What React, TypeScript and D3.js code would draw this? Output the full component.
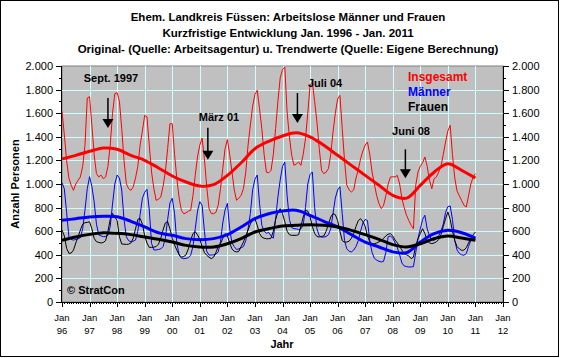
import React from "react";
import * as d3 from "d3";

// monthly values Jan 1996 .. Jan 2011
const insgesamt = [
  1616, 1420, 1200, 1050, 989, 946, 1000, 1031, 1060, 1150, 1328, 1729,
  1740, 1500, 1250, 1088, 1060, 1075, 1045, 1060, 1150, 1328, 1600, 1766,
  1774, 1700, 1469, 1200, 1003, 960, 946, 975, 1050, 1150, 1328, 1450,
  1582, 1568, 1328, 1100, 960, 862, 870, 890, 980, 1102, 1300, 1511,
  1511, 1250, 1045, 880, 776, 748, 755, 770, 776, 900, 1073, 1230,
  1330, 1390, 1215, 980, 791, 750, 748, 760, 820, 960, 1130, 1300,
  1376, 1250, 1102, 950, 862, 880, 904, 960, 1100, 1328, 1500, 1660,
  1760, 1794, 1640, 1469, 1250, 1100, 1095, 1115, 1250, 1469, 1700, 1900,
  1970, 1991, 1610, 1400, 1243, 1158, 1170, 1186, 1158, 1250, 1384, 1600,
  1836, 1864, 1700, 1525, 1300, 1116, 1088, 1100, 1130, 1250, 1441, 1600,
  1720, 1751, 1469, 1200, 989, 950, 932, 950, 1050, 1120, 1215, 1280,
  1330, 1356, 1250, 1102, 1000, 900, 833, 791, 820, 900, 1000, 1059,
  1062, 1059, 1073, 1000, 876, 800, 735, 690, 650, 621, 989, 1102,
  1150, 1180, 1229, 1150, 1030, 960, 1045, 1060, 1100, 1150, 1250, 1356,
  1450, 1497, 1250, 1050, 940, 900, 860, 820, 805, 900, 1000, 1060,
  1088,
];

const maenner = [
  1010, 960, 760, 553, 530, 525, 530, 535, 545, 620, 780, 960,
  1062, 980, 850, 660, 568, 560, 553, 555, 565, 640, 830, 1000,
  1076, 1050, 949, 700, 553, 520, 511, 515, 525, 600, 740, 880,
  930, 955, 780, 497, 441, 441, 445, 450, 470, 540, 700, 840,
  879, 751, 500, 398, 372, 367, 370, 375, 395, 470, 620, 770,
  850, 820, 600, 430, 398, 398, 400, 405, 425, 510, 670, 780,
  836, 620, 500, 469, 445, 450, 460, 470, 520, 620, 750, 950,
  1040, 1076, 836, 650, 600, 582, 590, 560, 540, 700, 890, 1034,
  1150, 1186, 900, 700, 630, 621, 620, 615, 620, 650, 800, 1000,
  1080, 1102, 800, 620, 560, 550, 550, 555, 570, 620, 750, 880,
  950, 977, 750, 520, 450, 430, 424, 440, 470, 520, 600, 670,
  700, 690, 520, 420, 370, 355, 345, 339, 345, 420, 553, 560,
  540, 500, 460, 400, 330, 305, 300, 297, 297, 300, 420, 540,
  620, 700, 735, 620, 560, 530, 520, 540, 560, 600, 660, 760,
  808, 814, 700, 520, 440, 412, 400, 396, 410, 470, 522, 530,
  540,
];

const frauen = [
  610, 560, 455, 412, 415, 440, 500, 553, 610, 660, 672, 675,
  680, 620, 540, 511, 505, 500, 505, 520, 600, 700, 751, 720,
  690, 553, 491, 490, 488, 490, 500, 540, 620, 700, 709, 660,
  560, 500, 463, 463, 465, 470, 490, 540, 610, 670, 681, 620,
  540, 483, 440, 400, 381, 385, 400, 450, 520, 580, 596, 570,
  530, 470, 420, 396, 380, 367, 380, 420, 470, 494, 540, 579,
  560, 500, 450, 430, 424, 430, 470, 508, 560, 610, 660, 700,
  706, 650, 580, 550, 540, 536, 536, 540, 600, 700, 760, 791,
  750, 680, 600, 570, 565, 565, 565, 570, 640, 720, 777, 770,
  720, 640, 580, 555, 551, 555, 560, 600, 660, 720, 749, 740,
  690, 600, 520, 508, 508, 515, 540, 580, 640, 690, 706, 680,
  640, 560, 510, 494, 494, 500, 510, 520, 540, 560, 575, 579,
  560, 525, 500, 470, 440, 410, 400, 390, 367, 380, 480, 536,
  580, 621, 580, 520, 500, 495, 500, 510, 530, 570, 640, 706,
  763, 700, 600, 520, 470, 450, 438, 440, 460, 500, 540, 570,
  593,
];

// trend values, half-yearly (Jan / Jul) 1996 .. 2011
const trendInsgesamt = [
  1212, 1243, 1277, 1305, 1294, 1243, 1201, 1136, 1068, 1017, 983, 994,
  1073, 1180, 1299, 1362, 1407, 1435, 1400, 1328, 1243, 1158, 1073, 989,
  904, 880, 989, 1100, 1172, 1116, 1051,
];
const trendMaenner = [
  692, 706, 720, 726, 722, 684, 636, 587, 565, 537, 528, 537,
  571, 636, 706, 748, 771, 777, 735, 684, 636, 571, 508, 466,
  425, 418, 508, 579, 607, 587, 542,
];
const trendFrauen = [
  523, 551, 573, 587, 582, 571, 551, 531, 508, 480, 466, 466,
  494, 537, 593, 621, 644, 650, 655, 650, 636, 607, 571, 531,
  486, 466, 494, 537, 559, 542, 523,
];

const yearLabels = ["96", "97", "98", "99", "00", "01", "02", "03", "04", "05", "06", "07", "08", "09", "10", "11", "12"];
const yTickValues = [0, 200, 400, 600, 800, 1000, 1200, 1400, 1600, 1800, 2000];

const legendNames = ["Insgesamt", "Männer", "Frauen"];

// arrows: month index, value at stem top, value at tip
const markers = [
  { label: "Sept. 1997", month: 20, top: 1729, tip: 1475 },
  { label: "März 01", month: 63.5, top: 1477, tip: 1206 },
  { label: "Juli 04", month: 102.5, top: 1771, tip: 1517 },
  { label: "Juni 08", month: 149.5, top: 1294, tip: 1048 },
];

const FONT = "'Liberation Sans', Arial, sans-serif";
const fmt = d3.formatLocale({ decimal: ",", thousands: ".", grouping: [3], currency: ["", "€"] }).format(",");

export default function App() {
  const W = 561;
  const H = 358;
  const left = 62, right = 503, top = 66, bottom = 302;

  const x = d3.scaleLinear().domain([0, 192]).range([left, right]);
  const y = d3.scaleLinear().domain([0, 2000]).range([bottom, top]);

  const raw = d3.line<number>().x((_, i) => x(i)).y((d) => y(d));
  const trend = d3
    .line<number>()
    .x((_, i) => x(i * 6))
    .y((d) => y(d))
    .curve(d3.curveCatmullRom.alpha(0.5));

  const months = d3.range(0, 193);
  const minorY = d3.range(100, 2000, 200);

  // label offsets for the arrow annotations (px)
  const labelPos = [
    [111, 82],
    [219, 121],
    [325, 87],
    [411, 135],
  ];
  const legendColors = ["#ff0000", "#0000ff", "#000000"];

  return (
    <svg
      width={W}
      height={H}
      style={{ position: "absolute", left: 0, top: 0, background: "#fff" }}
      fontFamily={FONT}
    >
      <rect x={0.5} y={0.5} width={558} height={356} fill="#fff" stroke="#000" />

      {/* titles */}
      <g fontSize={11.5} fontWeight="bold" textAnchor="middle" fill="#000">
        <text x={288} y={21}>Ehem. Landkreis Füssen: Arbeitslose Männer und Frauen</text>
        <text x={288} y={37}>Kurzfristige Entwicklung Jan. 1996 - Jan. 2011</text>
        <text x={288} y={53}>Original- (Quelle: Arbeitsagentur) u. Trendwerte (Quelle: Eigene Berechnung)</text>
      </g>

      {/* plot area */}
      <rect x={left} y={top} width={right - left} height={bottom - top} fill="#c0c0c0" stroke="#808080" />
      <g stroke="#ccffff" strokeWidth={1}>
        {yTickValues.slice(1, -1).map((v) => (
          <line key={"h" + v} x1={left} x2={right} y1={Math.round(y(v)) + 0.5} y2={Math.round(y(v)) + 0.5} />
        ))}
        {yearLabels.slice(1, -1).map((_, k) => (
          <line key={"v" + k} x1={Math.round(x((k + 1) * 12)) + 0.5} x2={Math.round(x((k + 1) * 12)) + 0.5} y1={top} y2={bottom} />
        ))}
      </g>

      {/* series */}
      <g fill="none" strokeLinejoin="round">
        <path d={raw(insgesamt) || ""} stroke="#ff0000" strokeWidth={1} />
        <path d={raw(maenner) || ""} stroke="#0000ff" strokeWidth={1} />
        <path d={raw(frauen) || ""} stroke="#000000" strokeWidth={1} />
        <path d={trend(trendInsgesamt) || ""} stroke="#ff0000" strokeWidth={3} />
        <path d={trend(trendMaenner) || ""} stroke="#0000ff" strokeWidth={3} />
        <path d={trend(trendFrauen) || ""} stroke="#000000" strokeWidth={3} />
      </g>

      {/* arrows */}
      {markers.map((m, k) => {
        const ax = x(m.month);
        const y0 = y(m.top);
        const y1 = y(m.tip);
        return (
          <g key={m.label}>
            <line x1={ax} x2={ax} y1={y0} y2={y1 - 8} stroke="#000" strokeWidth={1.5} />
            <path d={`M${ax - 5.5},${y1 - 9}L${ax + 5.5},${y1 - 9}L${ax},${y1}Z`} fill="#000" />
            <text x={labelPos[k][0]} y={labelPos[k][1]} fontSize={11} fontWeight="bold" textAnchor="middle">
              {m.label}
            </text>
          </g>
        );
      })}

      {/* legend */}
      <g fontSize={12} fontWeight="bold">
        {legendNames.map((n, k) => (
          <text key={n} x={408} y={81 + k * 15} fill={legendColors[k]}>
            {n}
          </text>
        ))}
      </g>

      <text x={67} y={294} fontSize={11} fontWeight="bold">© StratCon</text>

      {/* axes */}
      <g stroke="#000" strokeWidth={1}>
        <line x1={left - 0.5} x2={left - 0.5} y1={top} y2={bottom + 0.5} />
        <line x1={right + 0.5} x2={right + 0.5} y1={top} y2={bottom + 0.5} />
        <line x1={left - 0.5} x2={right + 0.5} y1={bottom + 0.5} y2={bottom + 0.5} />
        {yTickValues.map((v) => (
          <g key={"t" + v}>
            <line x1={left - 6} x2={left} y1={Math.round(y(v)) + 0.5} y2={Math.round(y(v)) + 0.5} />
            <line x1={right} x2={right + 6} y1={Math.round(y(v)) + 0.5} y2={Math.round(y(v)) + 0.5} />
          </g>
        ))}
        {minorY.map((v) => (
          <g key={"m" + v}>
            <line x1={left - 3} x2={left} y1={Math.round(y(v)) + 0.5} y2={Math.round(y(v)) + 0.5} />
            <line x1={right} x2={right + 3} y1={Math.round(y(v)) + 0.5} y2={Math.round(y(v)) + 0.5} />
          </g>
        ))}
        {months.map((mo) => (
          <line
            key={"x" + mo}
            x1={Math.round(x(mo)) + 0.5}
            x2={Math.round(x(mo)) + 0.5}
            y1={bottom}
            y2={bottom + (mo % 12 === 0 ? 5 : 2)}
          />
        ))}
      </g>

      <g fontSize={11} fill="#000">
        {yTickValues.map((v) => (
          <g key={"l" + v}>
            <text x={53} y={y(v) + 4} textAnchor="end">{fmt(v)}</text>
            <text x={512} y={y(v) + 4}>{fmt(v)}</text>
          </g>
        ))}
      </g>

      <g fontSize={9.5} textAnchor="middle" fill="#000">
        {yearLabels.map((yl, k) => (
          <g key={"y" + yl}>
            <text x={x(k * 12)} y={321}>Jan</text>
            <text x={x(k * 12)} y={334}>{yl}</text>
          </g>
        ))}
      </g>

      <text x={282} y={348} fontSize={11} fontWeight="bold" textAnchor="middle">Jahr</text>
      <text
        transform={`translate(19,184) rotate(-90)`}
        fontSize={11}
        fontWeight="bold"
        textAnchor="middle"
      >
        Anzahl Personen
      </text>
    </svg>
  );
}
